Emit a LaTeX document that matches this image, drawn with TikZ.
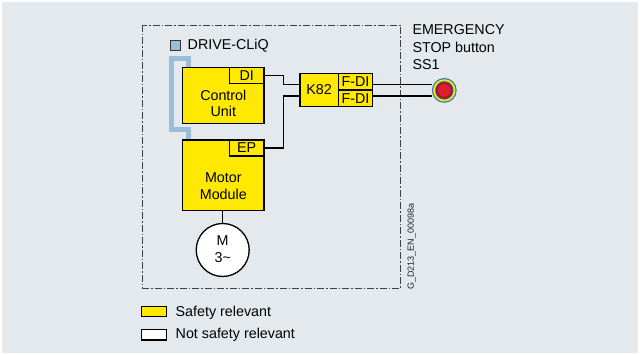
\documentclass[tikz,border=0pt]{standalone}
\usepackage{fontspec}
\setmainfont{Liberation Sans}
\usetikzlibrary{calc}
\definecolor{bg}{RGB}{228,233,237}
\definecolor{sy}{RGB}{255,233,0}
\definecolor{cliq}{RGB}{155,190,214}
\definecolor{btnblue}{RGB}{30,120,190}
\definecolor{btnred}{RGB}{225,30,50}
\definecolor{btndark}{RGB}{170,20,40}
\tikzset{
  box/.style={draw=black, line width=1.4pt, fill=sy, inner sep=0pt},
  sub/.style={draw=black, line width=1.2pt, fill=sy, inner sep=0pt, font=\fontsize{14.3}{14}\selectfont},
  lbl/.style={inner sep=0pt, align=center, font=\fontsize{14.3}{16.7}\selectfont},
  wire/.style={draw=black, line width=1.3pt},
  cliqline/.style={draw=cliq, line width=5pt},
  frame/.style={draw=black!75, line width=0.9pt, dash pattern=on 7pt off 2pt on 1.5pt off 2pt},
}
\begin{document}
\begin{tikzpicture}[x=1pt,y=-1pt]
\useasboundingbox (0,0) rectangle (640,355);
\fill[bg] (2,2) rectangle (638,353);
% frame
\draw[frame] (142.5,25) rectangle (400.7,288);
% DRIVE-CLiQ legend
\node[draw=black!80, line width=0.9pt, fill=cliq, minimum size=10pt, inner sep=0pt] (cliqsq) at (175,45.8) {};
\node[lbl, anchor=west] (cliqtxt) at (187.5,45.8) {DRIVE-CLiQ};
% Control Unit
\node[box, minimum width=81.3pt, minimum height=55.6pt] (cu) at (223.3,95.5) {};
\node[lbl] (cutxt) at (223.3,103.5) {Control\\Unit};
\node[sub, minimum width=34.7pt, minimum height=15.6pt] (di) at (246.65,75.5) {DI};
% Motor Module
\node[box, minimum width=81.3pt, minimum height=70.7pt] (mm) at (223.3,175.35) {};
\node[lbl] (mmtxt) at (223.3,186) {Motor\\Module};
\node[sub, minimum width=34.7pt, minimum height=16pt] (ep) at (246.65,148) {EP};
% DRIVE-CLiQ connection
\coordinate (c1) at (188.5,58.5);
\coordinate (c2) at (188.5,130);
\draw[cliqline] (c1 |- cu.north) -- (c1) -- ++(-16.7,0) |- (c2) -- (c2 |- mm.north);
% motor
\node[draw=black, line width=1.3pt, fill=white, circle, minimum size=53pt, inner sep=0pt] (mot) at (222.7,250) {};
\node[lbl] (mottxt) at (222.7,249.3) {M\\3\char"7E};
\draw[wire] (mm.south -| mot.north) -- (mot.north);
% K82 and F-DI
\node[box, minimum width=38.3pt, minimum height=33.4pt] (k82) at (319.15,90) {};
\node[lbl] (k82txt) at (319.15,90) {K82};
\node[sub, minimum width=34.4pt, minimum height=16.7pt] (fdi1) at (355.5,81.65) {F-DI};
\node[sub, minimum width=34.4pt, minimum height=16.7pt] (fdi2) at (355.5,98.35) {F-DI};
% wires
\coordinate (k1) at ($(k82.west)+(0,-5.4)$);
\coordinate (k2) at ($(k82.west)+(0,6)$);
\draw[wire] (di.east) -- (283.5,75.5) |- (k1);
\draw[wire] (ep.east) -- (283.5,148) |- (k2);
% button
\coordinate (btn) at (444.3,90.4);
\fill[btnblue] (btn) circle (12.4pt);
\fill[sy] (btn) circle (11.2pt);
\fill[btnblue] (btn) circle (9.3pt);
\fill[btndark] (btn) circle (8.4pt);
\fill[btnred] (btn) circle (6.3pt);
\node[circle, minimum size=24.8pt, inner sep=0pt] (button) at (btn) {};
\draw[wire] (k1 -| fdi1.east) -- (k1 -| button.west);
\draw[wire] (k2 -| fdi2.east) -- (k2 -| button.west);
\node[lbl, anchor=west, align=left, font=\fontsize{14.3}{17.5}\selectfont] (estop) at (412.3,47.5) {EMERGENCY\\STOP button\\SS1};
% drawing number
\node[inner sep=0pt, rotate=90, font=\fontsize{9}{9}\selectfont, text=black!85] (code) at (411.7,246.5) {G\_D213\_EN\_00098a};
% legend
\node[draw=black, line width=1.2pt, fill=sy, minimum width=25pt, minimum height=10pt, inner sep=0pt] (leg1) at (154.2,311.7) {};
\node[lbl, anchor=west] (leg1t) at (175.5,312.5) {Safety relevant};
\node[draw=black, line width=1.2pt, fill=white, minimum width=25pt, minimum height=10.5pt, inner sep=0pt] (leg2) at (154.2,334.7) {};
\node[lbl, anchor=west] (leg2t) at (175.5,335) {Not safety relevant};
\end{tikzpicture}
\end{document}
